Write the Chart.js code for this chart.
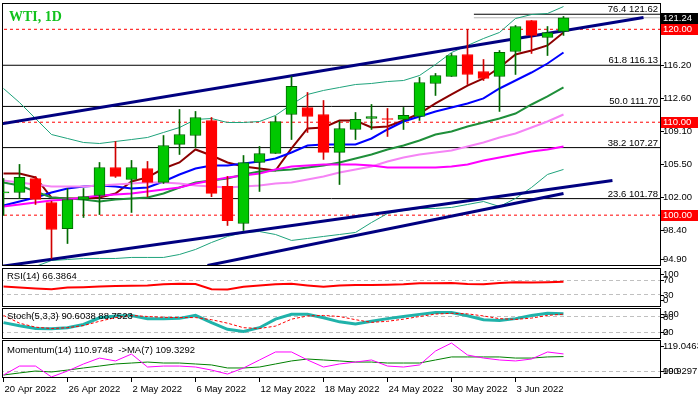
<!DOCTYPE html>
<html>
<head>
<meta charset="utf-8">
<title>WTI, 1D</title>
<script src="https://cdn.jsdelivr.net/npm/chart.js@4.4.1/dist/chart.umd.min.js"></script>
<style>
  html, body { margin: 0; padding: 0; background: #fff; }
  #wrap { position: relative; width: 698px; height: 397px; overflow: hidden; }
  #wrap canvas { position: absolute; left: 0; }
</style>
</head>
<body>
<div id="wrap">
  <canvas id="mainChart" width="698" height="267" style="top:0px"></canvas>
  <canvas id="rsiChart" width="698" height="40" style="top:267px"></canvas>
  <canvas id="stochChart" width="698" height="32" style="top:307px"></canvas>
  <canvas id="momChart" width="698" height="58" style="top:339px"></canvas>
</div>
<script>
// daily bars, 20 Apr 2022 .. 8 Jun 2022
const dates = ["20 Apr 2022", "21 Apr 2022", "22 Apr 2022", "25 Apr 2022", "26 Apr 2022", "27 Apr 2022",
  "28 Apr 2022", "29 Apr 2022", "2 May 2022", "3 May 2022", "4 May 2022", "5 May 2022", "6 May 2022",
  "9 May 2022", "10 May 2022", "11 May 2022", "12 May 2022", "13 May 2022", "16 May 2022", "17 May 2022",
  "18 May 2022", "19 May 2022", "20 May 2022", "23 May 2022", "24 May 2022", "25 May 2022", "26 May 2022",
  "27 May 2022", "30 May 2022", "31 May 2022", "1 Jun 2022", "2 Jun 2022", "3 Jun 2022", "6 Jun 2022",
  "7 Jun 2022", "8 Jun 2022"];

const opens = [102.40, 102.44, 103.95, 101.36, 98.56, 101.69, 102.12, 105.13, 103.84, 105.02, 103.52, 107.61,
  108.57, 110.19, 103.09, 99.10, 105.67, 106.64, 110.83, 111.59, 110.83, 106.75, 109.22, 110.40, 110.40, 110.30,
  110.62, 114.17, 114.92, 117.29, 115.46, 114.92, 117.61, 120.95, 119.12, 119.77];
const highs = [103.95, 105.46, 104.17, 101.50, 102.87, 102.87, 105.67, 107.93, 105.89, 105.78, 108.57, 111.37,
  111.16, 110.51, 104.17, 106.42, 107.39, 110.62, 114.92, 113.20, 112.34, 110.08, 111.05, 111.91, 111.48, 111.59,
  114.82, 115.25, 117.40, 119.98, 116.75, 117.72, 120.41, 120.95, 120.30, 121.38];
const lows = [99.97, 101.79, 101.15, 95.34, 96.95, 99.75, 100.07, 104.06, 100.29, 101.99, 103.41, 106.53,
  107.28, 101.99, 98.89, 98.35, 102.55, 106.64, 108.14, 108.90, 106.00, 103.30, 108.14, 109.22, 108.47, 109.22,
  110.19, 112.88, 114.92, 114.06, 114.49, 111.16, 115.14, 117.40, 117.18, 119.34];
const closes = [102.50, 104.06, 101.69, 98.46, 101.69, 101.99, 105.13, 104.17, 105.13, 103.52, 107.50, 108.68,
  110.51, 102.34, 99.42, 105.67, 106.64, 110.08, 113.85, 110.62, 106.75, 109.33, 110.30, 110.62, 110.30, 110.73,
  114.28, 115.03, 117.18, 115.14, 114.71, 117.51, 120.30, 119.34, 119.66, 121.24];

// moving averages
const maFast = [104.49, 104.49, 104.06, 101.90, 101.80, 101.80, 101.90, 102.33, 103.62, 104.06, 105.02, 105.67,
  107.07, 106.42, 105.67, 105.24, 105.02, 104.81, 107.18, 109.33, 109.44, 110.19, 110.19, 109.44, 109.54, 110.19,
  110.94, 112.02, 112.99, 113.95, 114.71, 115.89, 117.29, 117.72, 118.26, 119.66];
const maMid = [101.04, 101.47, 101.90, 102.44, 102.87, 103.09, 103.19, 103.09, 102.87, 102.98, 103.62, 104.38,
  105.02, 105.35, 105.35, 105.56, 105.78, 106.10, 106.74, 107.50, 107.61, 107.61, 107.61, 108.25, 109.22, 110.08,
  110.62, 111.16, 111.59, 112.02, 112.56, 113.63, 114.49, 115.35, 116.32, 117.50];
const maSlow = [103.73, 103.52, 103.30, 103.09, 103.09, 103.09, 103.19, 103.30, 103.41, 103.52, 103.52, 103.41,
  103.19, 103.09, 102.98, 103.09, 103.19, 103.41, 103.52, 103.84, 104.16, 104.59, 104.92, 105.24, 105.78, 106.21,
  106.53, 106.74, 106.96, 107.39, 107.82, 108.36, 108.79, 109.43, 110.08, 110.83];
const maLong = [100.93, 101.15, 101.37, 101.58, 101.69, 101.90, 102.12, 102.23, 102.33, 102.55, 102.76, 102.98,
  103.41, 103.73, 104.06, 104.27, 104.49, 104.92, 105.24, 105.35, 105.46, 105.46, 105.46, 105.35, 105.13, 105.13,
  105.13, 105.13, 105.24, 105.46, 105.88, 106.21, 106.53, 106.85, 107.07, 107.39];

// bollinger bands
const bbMid = [103.52, 103.19, 102.55, 101.90, 101.80, 101.69, 101.47, 101.69, 101.80, 101.90, 102.33, 102.98,
  103.52, 103.73, 103.95, 104.38, 104.70, 104.81, 104.92, 105.13, 105.35, 105.67, 106.10, 106.53, 107.07, 107.50,
  108.04, 108.68, 109.00, 109.54, 109.97, 110.40, 110.94, 111.91, 112.77, 113.74];
const bbUpper = [113.63, 112.12, 110.40, 108.68, 108.25, 107.82, 107.71, 107.93, 108.14, 108.36, 108.90, 109.43,
  110.30, 110.40, 109.97, 109.97, 110.08, 110.73, 111.91, 112.99, 113.42, 113.74, 114.06, 114.17, 114.38, 114.49,
  115.03, 116.21, 117.50, 118.26, 119.01, 119.66, 121.16, 121.59, 121.70, 122.45];
const bbLower = [91.90, 93.51, 94.48, 95.12, 95.23, 95.34, 95.34, 95.34, 95.45, 95.45, 95.45, 95.77,
  96.31, 97.06, 97.71, 98.14, 98.24, 97.92, 97.28, 97.49, 97.71, 97.92, 98.14, 99.21, 100.18, 100.50,
  100.72, 100.72, 100.83, 101.15, 101.47, 100.93, 101.80, 102.98, 104.38, 104.92];

// oscillators
const rsi = [53, 50, 47, 45, 50, 51, 53, 54, 55, 56, 59, 61, 60, 45, 44, 52, 56, 59, 61, 56, 52, 56, 57, 57,
  58, 59, 62, 62, 63, 60, 59, 63, 65, 64, 65, 66.39];
const stochK = [57, 45, 35, 34, 38, 50, 75, 82, 84, 72, 72, 73, 84, 57, 32, 24, 38, 70, 88, 88, 75, 60, 52, 62,
  72, 80, 88, 95, 95, 83, 68, 65, 72, 84, 92, 90.60];
const stochD = [84, 55, 40, 35, 38, 46, 62, 76, 84, 80, 77, 76, 76, 68, 55, 38, 35, 44, 70, 82, 84, 80, 68, 58,
  62, 70, 80, 89, 92, 90, 82, 72, 69, 74, 84, 88.75];
const momentum = [97.8, 103.4, 103.4, 96.6, 100.3, 104.7, 108.4, 106.6, 110.9, 102.8, 103.4, 103.4, 102.8, 100.9,
  98.4, 102.2, 107.2, 112.2, 112.2, 107.2, 102.8, 104.7, 105.9, 107.2, 103.4, 102.8, 104.1, 112.8, 117.8, 110.3,
  108.4, 107.2, 106.6, 107.8, 112.2, 110.97];
const momentumMA = [97.8, 99.1, 100.3, 99.7, 100.9, 102.2, 103.4, 104.7, 105.3, 105.9, 105.3, 105.3, 104.7, 104.1,
  102.2, 102.2, 102.8, 104.7, 106.6, 107.8, 107.2, 106.6, 105.9, 105.9, 105.3, 105.3, 105.3, 107.2, 109.1, 109.1,
  109.1, 109.1, 108.4, 108.4, 109.1, 109.33];

// price axis and levels
const priceTicks = [116.20, 112.60, 109.10, 105.50, 102.00, 98.40, 94.90];
const roundLevels = [120, 110, 100];
const lastPrice = 121.24;
const fibRatios = ["76.4", "61.8", "50.0", "38.2", "23.6"];
const fibPrices = [121.62, 116.13, 111.70, 107.27, 101.78];
const fibTopFrom = 29.4; // top fib level starts at the 31 May high

// trend channel, [bar, price]
const channelTop = [[-0.19, 109.81], [40, 121.27]];
const channelLow = [[-0.19, 94.48], [38.06, 103.73]];
const supportLine = [[12.75, 94.59], [35, 102.33]];

const FONT = '9.5px "Liberation Sans", Arial, sans-serif';
const X_MIN = -0.09375, X_MAX = 41.09375;
const RED = "#ff0000";

function series(values, color, width, extra) {
  return Object.assign({
    type: "line",
    data: values.map((v, i) => ({ x: i, y: v })),
    borderColor: color,
    borderWidth: width,
    pointRadius: 0,
    tension: 0,
    fill: false,
    order: 3,
  }, extra || {});
}

function segment(points, color, width, extra) {
  return Object.assign({
    type: "line",
    data: points.map((p) => ({ x: p[0], y: p[1] })),
    borderColor: color,
    borderWidth: width,
    pointRadius: 0,
    tension: 0,
    fill: false,
    order: 2,
  }, extra || {});
}

function level(value, color, dash, from) {
  return segment([[from === undefined ? X_MIN - 1 : from, value], [X_MAX + 1, value]], color, 1,
    { borderDash: dash || [], order: 5 });
}

// draws panel frame, captions, right scale labels, fib texts and dates
const mtPanel = {
  id: "mtPanel",
  afterDraw(chart, args, opts) {
    const { ctx, chartArea: a, scales } = chart;
    const ys = scales.y, xs = scales.x;
    ctx.save();
    ctx.lineWidth = 1;
    ctx.strokeStyle = "#000";
    ctx.strokeRect(a.left + 0.5, a.top + 0.5, a.right - a.left - 1, a.bottom - a.top - 1);
    ctx.font = FONT;

    if (opts.title) {
      ctx.font = 'bold 14px "Liberation Serif", "Times New Roman", serif';
      ctx.fillStyle = "#12c21d";
      ctx.textAlign = "left";
      ctx.textBaseline = "alphabetic";
      ctx.fillText(opts.title, 9, 21);
      ctx.font = FONT;
    }

    if (opts.caption) {
      ctx.fillStyle = "#000";
      ctx.textAlign = "left";
      ctx.textBaseline = "middle";
      ctx.fillText(opts.caption, 7, a.top + opts.captionDy);
    }

    if (opts.fibs) {
      ctx.fillStyle = "#000";
      ctx.textAlign = "right";
      ctx.textBaseline = "alphabetic";
      opts.fibs.forEach((f) => {
        const y = Math.round(ys.getPixelForValue(f.price));
        ctx.fillText(f.text, a.right - 3, y - 2);
      });
    }

    ctx.textAlign = "left";
    ctx.textBaseline = "middle";
    (opts.labels || []).forEach((l) => {
      let y = ys.getPixelForValue(l.value);
      y = Math.round(Math.min(Math.max(y, a.top + 6), a.bottom - 7));
      if (l.bg) {
        ctx.fillStyle = l.bg;
        ctx.fillRect(a.right, y - 5, chart.width - a.right, 11);
      } else {
        ctx.strokeStyle = "#000";
        ctx.beginPath();
        ctx.moveTo(a.right, y + 0.5);
        ctx.lineTo(a.right + 3, y + 0.5);
        ctx.stroke();
      }
      ctx.fillStyle = l.color || "#000";
      ctx.fillText(l.text, a.right + 2, y + 0.5);
    });

    if (opts.dates) {
      ctx.strokeStyle = "#000";
      ctx.fillStyle = "#000";
      opts.dates.forEach((d) => {
        const x = Math.floor(xs.getPixelForValue(d.index)) + 0.5;
        ctx.beginPath();
        ctx.moveTo(x, a.bottom);
        ctx.lineTo(x, a.bottom + 4);
        ctx.stroke();
        ctx.fillText(d.text, x + 1, a.bottom + 11);
      });
    }
    ctx.restore();
  },
};

function panelOptions(yMin, yMax, padding, panel) {
  return {
    responsive: false,
    animation: false,
    devicePixelRatio: 1,
    events: [],
    layout: { padding },
    scales: {
      x: { type: "linear", display: false, min: X_MIN, max: X_MAX, offset: false },
      y: { type: "linear", display: false, min: yMin, max: yMax },
    },
    plugins: { legend: { display: false }, tooltip: { enabled: false }, mtPanel: panel },
  };
}

// ---- main price panel ----
const isUp = closes.map((c, i) => c >= opens[i]);
const priceLabels = priceTicks.map((p) => ({ value: p, text: p.toFixed(2) }))
  .concat(roundLevels.map((p) => ({ value: p, text: p.toFixed(2), bg: RED, color: "#fff" })))
  .concat([{ value: lastPrice, text: lastPrice.toFixed(2), bg: "#000", color: "#fff" }]);

new Chart(document.getElementById("mainChart"), {
  type: "bar",
  data: {
    datasets: [
      {
        type: "bar",
        data: opens.map((o, i) => ({ x: i, y: [o, closes[i]] })),
        backgroundColor: isUp.map((u) => (u ? "#00c800" : RED)),
        borderColor: isUp.map((u) => (u ? "#006a00" : RED)),
        borderWidth: 1,
        borderSkipped: false,
        barThickness: 11,
        grouped: false,
        order: 0,
      },
      {
        type: "bar",
        data: lows.map((l, i) => ({ x: i, y: [l, highs[i]] })),
        backgroundColor: isUp.map((u) => (u ? "#006a00" : "#d00000")),
        borderWidth: 0,
        barThickness: 1,
        grouped: false,
        order: 1,
      },
      segment(channelTop, "#000080", 3),
      segment(channelLow, "#000080", 3),
      segment(supportLine, "#000080", 3),
      series(bbUpper, "#1fa37c", 1),
      series(bbLower, "#1fa37c", 1),
      series(maLong, "#ff00ff", 2),
      series(maSlow, "#f584f5", 2),
      series(bbMid, "#1f8f3a", 2),
      series(maMid, "#0000ff", 2),
      series(maFast, "#8b0000", 2),
      ...roundLevels.map((p) => level(p, RED, [3, 3])),
      level(fibPrices[0], "#000", [], fibTopFrom),
      level(lastPrice, "#b4b4b4", [], fibTopFrom),
      ...fibPrices.slice(1).map((p) => level(p, "#000")),
    ],
  },
  options: panelOptions(94.53, 122.83, { left: 2, right: 37, top: 3, bottom: 1 }, {
    title: "WTI, 1D",
    fibs: fibPrices.map((p, i) => ({ price: p, text: fibRatios[i] + " " + p.toFixed(2) })),
    labels: priceLabels,
  }),
  plugins: [mtPanel],
});

// ---- RSI ----
new Chart(document.getElementById("rsiChart"), {
  type: "line",
  data: {
    datasets: [
      series(rsi, RED, 2),
      level(70, "#c0c0c0", [4, 3]),
      level(30, "#c0c0c0", [4, 3]),
    ],
  },
  options: panelOptions(-5.71, 105.71, { left: 2, right: 37, top: 1, bottom: 0 }, {
    caption: "RSI(14) 66.3864",
    captionDy: 8,
    labels: [100, 70, 30, 0].map((v) => ({ value: v, text: String(v) })),
  }),
  plugins: [mtPanel],
});

// ---- Stochastic ----
new Chart(document.getElementById("stochChart"), {
  type: "line",
  data: {
    datasets: [
      series(stochD, RED, 1, { borderDash: [3, 2], order: 2 }),
      series(stochK, "#20b2aa", 3),
      level(80, "#c0c0c0", [4, 3]),
      level(20, "#c0c0c0", [4, 3]),
    ],
  },
  options: panelOptions(-4.375, 111.875, { left: 2, right: 37, top: 1, bottom: 0 }, {
    caption: "Stoch(5,3,3) 90.6038 88.7523",
    captionDy: 8.5,
    labels: [100, 80, 20, 0].map((v) => ({ value: v, text: String(v) })),
  }),
  plugins: [mtPanel],
});

// ---- Momentum ----
new Chart(document.getElementById("momChart"), {
  type: "line",
  data: {
    datasets: [
      series(momentum, "#ff00ff", 1, { order: 2 }),
      series(momentumMA, "#008000", 1),
      level(100, "#c0c0c0", [4, 3]),
    ],
  },
  options: panelOptions(95.9375, 119.6875, { left: 2, right: 37, top: 1, bottom: 19 }, {
    caption: "Momentum(14) 110.9748  ->MA(7) 109.3292",
    captionDy: 10,
    labels: [
      { value: 119.0463, text: "119.0463" },
      { value: 100, text: "100" },
      { value: 99.9297, text: "99.9297" },
    ],
    dates: dates.map((d, i) => ({ index: i, text: d })).filter((d) => d.index % 4 === 0),
  }),
  plugins: [mtPanel],
});
</script>
</body>
</html>
